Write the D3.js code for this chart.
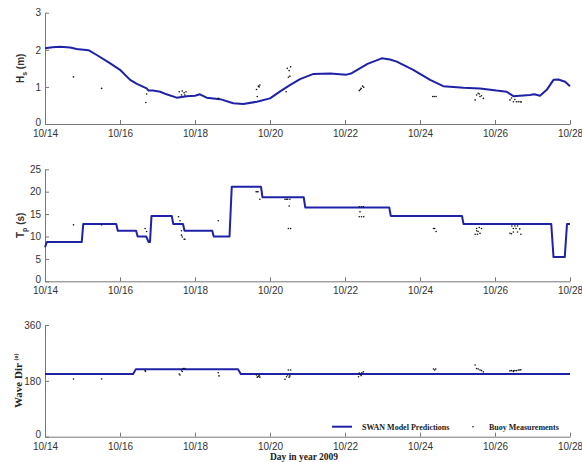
<!DOCTYPE html>
<html>
<head>
<meta charset="utf-8">
<script src="https://cdn.jsdelivr.net/npm/d3@7/dist/d3.min.js"></script>
<style>
  body { margin: 0; background: #fff; }
  .axis .tick text { font-family: 'Liberation Sans', Arial, sans-serif; font-size: 10px; fill: #333; }
  .axis path, .axis line { stroke: #777; }
</style>
</head>
<body>
<div id="chart"></div>
<script>
// x ticks (day of October 2009)
const dayTicks = [14, 16, 18, 20, 22, 24, 26, 28];
const dayLabels = ['10/14', '10/16', '10/18', '10/20', '10/22', '10/24', '10/26', '10/28'];

// significant wave height (m): [day, value]
const hsModel = [
  [14.0, 2.04], [14.2, 2.07], [14.4, 2.08], [14.67, 2.06], [14.84, 2.02], [15.16, 1.99],
  [15.38, 1.86], [15.73, 1.64], [16.0, 1.46], [16.27, 1.19], [16.45, 1.08], [16.71, 0.96],
  [16.76, 0.9], [16.88, 0.9], [17.07, 0.87], [17.24, 0.8], [17.51, 0.71], [17.78, 0.75],
  [18.0, 0.76], [18.13, 0.8], [18.31, 0.71], [18.67, 0.67], [19.02, 0.56], [19.29, 0.54],
  [19.65, 0.6], [20.0, 0.69], [20.27, 0.88], [20.53, 1.05], [20.8, 1.21], [21.16, 1.35],
  [21.6, 1.36], [22.04, 1.33], [22.18, 1.37], [22.6, 1.62], [22.98, 1.77], [23.2, 1.74],
  [23.38, 1.68], [23.82, 1.46], [24.27, 1.19], [24.62, 1.02], [25.16, 0.98], [25.6, 0.96],
  [26.04, 0.9], [26.31, 0.87], [26.49, 0.75], [26.93, 0.78], [27.05, 0.8], [27.2, 0.76],
  [27.38, 0.92], [27.56, 1.19], [27.69, 1.2], [27.87, 1.14], [28.0, 1.02]
];
const hsBuoy = [
  [14.76, 1.27], [15.51, 0.96], [16.69, 0.58], [16.71, 0.81],
  [17.58, 0.87], [17.64, 0.78], [17.66, 0.89], [17.71, 0.84], [17.73, 0.78], [17.76, 0.87],
  [18.62, 0.69],
  [19.66, 0.74], [19.64, 0.93], [19.69, 1.02], [19.71, 1.0], [19.73, 1.05],
  [20.43, 0.87], [20.46, 1.5], [20.49, 1.26], [20.51, 1.44], [20.53, 1.29], [20.55, 1.54],
  [22.38, 0.9], [22.41, 0.93], [22.43, 0.96], [22.47, 1.02], [22.5, 0.99],
  [24.34, 0.74], [24.38, 0.74], [24.43, 0.74],
  [25.47, 0.65], [25.51, 0.78], [25.55, 0.83], [25.58, 0.81], [25.6, 0.74], [25.64, 0.76], [25.69, 0.69],
  [26.4, 0.65], [26.44, 0.7], [26.49, 0.6], [26.53, 0.66], [26.57, 0.6], [26.62, 0.6], [26.67, 0.6], [26.7, 0.59]
];

// peak period (s)
const tpModel = [
  [14.0, 7.6], [14.05, 8.8], [14.98, 8.8], [15.02, 12.8], [15.9, 12.8], [15.94, 11.3],
  [16.43, 11.3], [16.47, 10.0], [16.7, 10.0], [16.76, 8.8], [16.8, 8.8], [16.84, 14.6],
  [17.38, 14.6], [17.42, 12.8], [17.68, 12.8], [17.72, 11.3], [18.46, 11.3], [18.5, 10.0],
  [18.92, 10.0], [18.98, 21.1], [19.76, 21.1], [19.8, 18.75], [20.9, 18.75], [20.94, 16.5],
  [23.18, 16.5], [23.22, 14.6], [25.12, 14.6], [25.16, 12.8], [27.5, 12.8], [27.56, 5.4],
  [27.86, 5.4], [27.92, 12.8], [28.0, 12.8]
];
const tpBuoy = [
  [14.76, 12.6], [15.51, 12.6], [16.67, 11.8], [16.71, 11.1],
  [17.56, 14.4], [17.6, 13.5], [17.64, 11.3], [17.64, 10.3], [17.66, 9.9], [17.71, 9.4], [17.73, 9.4],
  [18.62, 13.5],
  [19.63, 20.0], [19.66, 20.0], [19.68, 20.0], [19.73, 18.3],
  [20.4, 18.3], [20.44, 18.3], [20.47, 18.3], [20.53, 18.3], [20.51, 16.8], [20.49, 11.8], [20.55, 11.8],
  [22.38, 16.65], [22.44, 16.65], [22.49, 16.65], [22.4, 15.5], [22.38, 14.4], [22.44, 14.4], [22.5, 14.4],
  [24.36, 11.8], [24.39, 11.8], [24.43, 11.1],
  [25.51, 11.8], [25.58, 12.0], [25.64, 11.8], [25.51, 11.3], [25.55, 11.1], [25.47, 10.5], [25.53, 10.5], [25.6, 10.7],
  [26.45, 12.35], [26.53, 12.35], [26.6, 12.35], [26.49, 11.8], [26.56, 11.8], [26.66, 11.7],
  [26.4, 10.7], [26.49, 11.0], [26.6, 11.0], [26.69, 10.5], [26.44, 10.6]
];

// mean wave direction (deg)
const dirModel = [
  [14.0, 202], [16.35, 202], [16.42, 217], [19.15, 217], [19.22, 202], [28.0, 202]
];
const dirBuoy = [
  [14.76, 186], [15.51, 186], [16.67, 213], [16.68, 210],
  [17.58, 202], [17.6, 199], [17.64, 215], [17.66, 210], [17.69, 220], [17.73, 220],
  [18.62, 206], [18.64, 196],
  [19.64, 199], [19.66, 192], [19.69, 194], [19.71, 197], [19.73, 192],
  [20.4, 185], [20.44, 193], [20.47, 199], [20.49, 215], [20.51, 192], [20.53, 196], [20.55, 215],
  [22.36, 193], [22.38, 205], [22.4, 201], [22.43, 197], [22.45, 206], [22.49, 209],
  [24.36, 218], [24.39, 215], [24.42, 218],
  [25.47, 231], [25.51, 220], [25.55, 218], [25.6, 215], [25.64, 213], [25.69, 209],
  [26.4, 212], [26.44, 213], [26.49, 212], [26.49, 210], [26.53, 213], [26.57, 213], [26.62, 215], [26.66, 215], [26.69, 216]
];

const legendLabels = ['SWAN Model Predictions', 'Buoy Measurements'];
const xTitle = 'Day in year 2009';

const W = 582, H = 462;
const lineColor = '#1f22a6';

const svg = d3.select('#chart').append('svg')
  .attr('width', W)
  .attr('height', H);

const x = d3.scaleLinear().domain([14, 28]).range([45, 570]);

const panels = [
  { model: hsModel, buoy: hsBuoy, domain: [0, 3], ticks: [0, 1, 2, 3], top: 12.7, bottom: 124, label: 'hs' },
  { model: tpModel, buoy: tpBuoy, domain: [0, 25], ticks: [0, 5, 10, 15, 20, 25], top: 169.3, bottom: 281.3, label: 'tp' },
  { model: dirModel, buoy: dirBuoy, domain: [0, 360], ticks: [0, 180, 360], top: 325, bottom: 436.7, label: 'dir' }
];

panels.forEach(p => {
  const y = d3.scaleLinear().domain(p.domain).range([p.bottom, p.top]);

  // axes (matlab style, inward ticks)
  svg.append('g')
    .attr('class', 'axis')
    .attr('transform', `translate(0, ${p.bottom})`)
    .call(d3.axisBottom(x).tickValues(dayTicks).tickFormat((d, i) => dayLabels[i])
      .tickSizeInner(-4).tickSizeOuter(0).tickPadding(6));

  const yAxis = svg.append('g')
    .attr('class', 'axis')
    .attr('transform', `translate(${x(14)}, 0)`)
    .call(d3.axisLeft(y).tickValues(p.ticks).tickFormat(d3.format('d'))
      .tickSizeInner(-4).tickSizeOuter(0).tickPadding(4));
  // lift the zero label a bit, as in the original
  yAxis.selectAll('.tick text').filter(d => d === 0).attr('dy', '0.1em');

  const line = d3.line()
    .x(d => x(d[0]))
    .y(d => y(d[1]));

  svg.append('path')
    .datum(p.model)
    .attr('d', line)
    .attr('fill', 'none')
    .attr('stroke', lineColor)
    .attr('stroke-width', 2)
    .attr('stroke-linejoin', 'round');

  svg.append('g')
    .selectAll('circle')
    .data(p.buoy)
    .join('circle')
    .attr('cx', d => x(d[0]))
    .attr('cy', d => y(d[1]))
    .attr('r', 0.8)
    .attr('fill', '#111');

  // y labels
  const cy = (p.top + p.bottom) / 2;
  if (p.label === 'hs' || p.label === 'tp') {
    const t = svg.append('text')
      .attr('transform', `translate(24, ${cy}) rotate(-90)`)
      .attr('text-anchor', 'middle')
      .style('font-family', "'Liberation Sans', Arial, sans-serif")
      .style('font-size', '10px')
      .style('font-weight', 'bold')
      .attr('fill', '#333');
    t.append('tspan').text(p.label === 'hs' ? 'H' : 'T');
    t.append('tspan').attr('dy', 3).style('font-size', '7px').text(p.label === 'hs' ? 's' : 'p');
    t.append('tspan').attr('dy', -3).text(p.label === 'hs' ? ' (m)' : ' (s)');
  } else {
    const t = svg.append('text')
      .attr('transform', `translate(22, ${cy}) rotate(-90)`)
      .attr('text-anchor', 'middle')
      .style('font-family', "'Liberation Serif', 'Times New Roman', serif")
      .style('font-size', '11px')
      .style('font-weight', 'bold')
      .attr('fill', '#222');
    t.append('tspan').text('Wave Dir ');
    t.append('tspan').attr('dy', -4).style('font-size', '6px').text('(o)');
  }
});

// legend inside bottom panel
const legend = svg.append('g')
  .style('font-family', "'Liberation Serif', 'Times New Roman', serif")
  .style('font-size', '8px')
  .style('font-weight', 'bold')
  .attr('fill', '#222');

legend.append('line')
  .attr('x1', 332).attr('x2', 352)
  .attr('y1', 426.7).attr('y2', 426.7)
  .attr('stroke', lineColor)
  .attr('stroke-width', 2);
legend.append('text').attr('x', 362).attr('y', 429.5).text(legendLabels[0]);
legend.append('circle').attr('cx', 473).attr('cy', 426.7).attr('r', 0.8).attr('fill', '#111');
legend.append('text').attr('x', 489).attr('y', 429.5).text(legendLabels[1]);

svg.append('text')
  .attr('x', 304)
  .attr('y', 459.5)
  .attr('text-anchor', 'middle')
  .style('font-family', "'Liberation Serif', 'Times New Roman', serif")
  .style('font-size', '9.5px')
  .style('font-weight', 'bold')
  .attr('fill', '#222')
  .text(xTitle);
</script>
</body>
</html>
